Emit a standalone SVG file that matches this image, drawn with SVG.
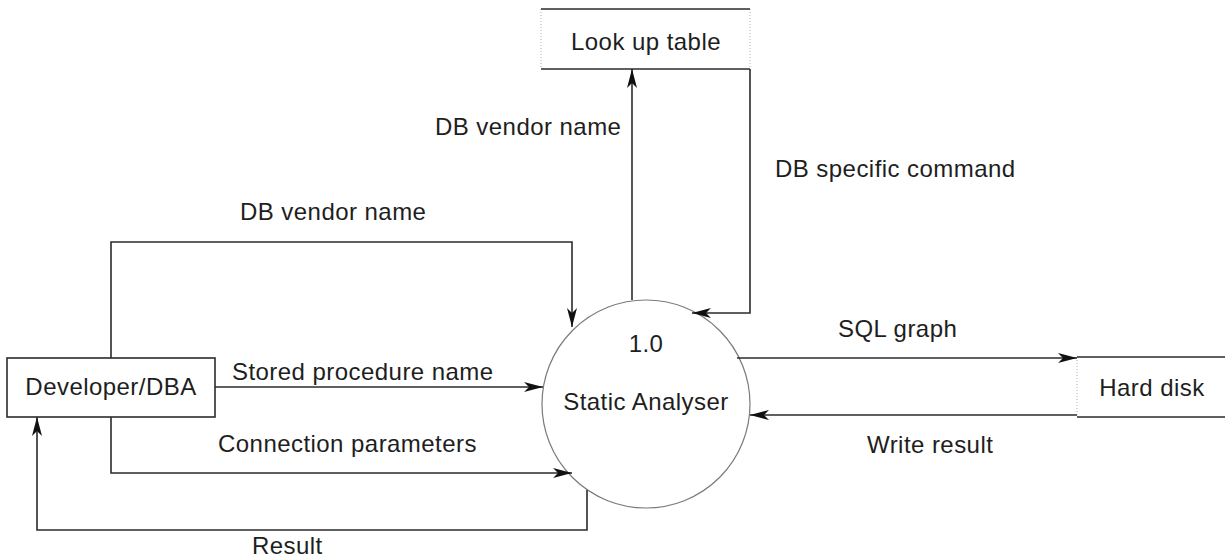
<svg xmlns="http://www.w3.org/2000/svg" width="1225" height="558" viewBox="0 0 1225 558">
  <style>
    .bg { fill: #ffffff; }
    .lbl { font-family: "Liberation Sans", Arial, sans-serif; font-size: 24px; letter-spacing: 0.45px; fill: #1e1e1e; }
    .box { fill: #ffffff; stroke: #2b2b2b; stroke-width: 1.6; }
    .edge { fill: none; stroke: #2b2b2b; stroke-width: 1.6; }
    .dot { fill: none; stroke: #b0b0b0; stroke-width: 1; stroke-dasharray: 1 2; }
    .flow { fill: none; stroke: #2b2b2b; stroke-width: 1.6; marker-end: url(#arrow); }
    .proc { fill: #ffffff; stroke: #7a7a7a; stroke-width: 1.2; }
  </style>
  <defs>
    <marker id="arrow" markerUnits="userSpaceOnUse" markerWidth="20" markerHeight="12" viewBox="0 0 20 12" refX="19" refY="6" orient="auto">
      <path d="M0,1 L19,6 L0,11 L5,6 z" fill="#111111"/>
    </marker>
  </defs>

  <rect class="bg" x="0" y="0" width="1225" height="558"/>

  <!-- Data store: Look up table (open sides) -->
  <g id="lookup-table">
    <line class="dot" x1="541" y1="9" x2="541" y2="69"/>
    <line class="dot" x1="750" y1="9" x2="750" y2="69"/>
    <line class="edge" x1="541" y1="9" x2="750" y2="9"/>
    <line class="edge" x1="541" y1="69" x2="750" y2="69"/>
    <text class="lbl" x="646" y="50" text-anchor="middle">Look up table</text>
  </g>

  <!-- External entity -->
  <g id="developer-dba">
    <rect class="box" x="7" y="358" width="208" height="59"/>
    <text class="lbl" x="111" y="395" text-anchor="middle">Developer/DBA</text>
  </g>

  <!-- Process 1.0 -->
  <g id="static-analyser">
    <circle class="proc" cx="646" cy="404" r="104"/>
    <text class="lbl" x="646" y="352" text-anchor="middle">1.0</text>
    <text class="lbl" x="646" y="410" text-anchor="middle">Static Analyser</text>
  </g>

  <!-- Data store: Hard disk (open left side) -->
  <g id="hard-disk">
    <line class="dot" x1="1077" y1="357" x2="1077" y2="417"/>
    <line class="edge" x1="1077" y1="357" x2="1225" y2="357"/>
    <line class="edge" x1="1077" y1="417" x2="1225" y2="417"/>
    <text class="lbl" x="1152" y="396" text-anchor="middle">Hard disk</text>
  </g>

  <!-- Data flows -->
  <g id="connectors">
    <path class="flow" d="M111,358 V242 H572 V327"/>
    <path class="flow" d="M215,387 H543"/>
    <path class="flow" d="M111,417 V473 H572"/>
    <path class="flow" d="M587,490 V530 H37 V417"/>
    <path class="flow" d="M632,300 V69"/>
    <path class="flow" d="M750,69 V313 H692"/>
    <path class="flow" d="M737,358 H1077"/>
    <path class="flow" d="M1077,415 H750"/>

    <text class="lbl" x="240" y="220">DB vendor name</text>
    <text class="lbl" x="232" y="380">Stored procedure name</text>
    <text class="lbl" x="218" y="452">Connection parameters</text>
    <text class="lbl" x="252" y="554">Result</text>
    <text class="lbl" x="435" y="135">DB vendor name</text>
    <text class="lbl" x="775" y="177">DB specific command</text>
    <text class="lbl" x="838" y="337">SQL graph</text>
    <text class="lbl" x="867" y="453">Write result</text>
  </g>
</svg>
